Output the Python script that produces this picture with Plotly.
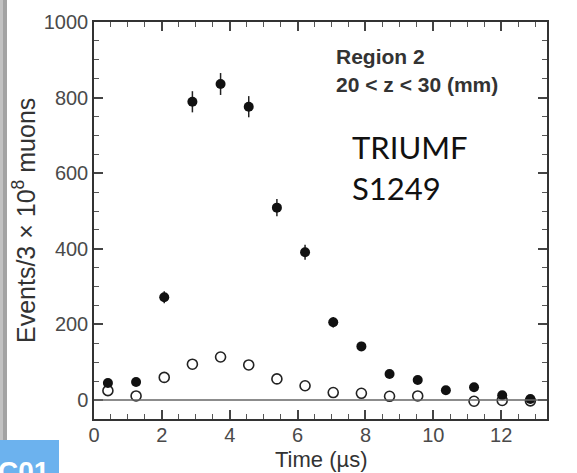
import plotly.graph_objects as go

# Time bins (µs) and event counts per 3 × 10^8 muons
time_us = [0.41, 1.24, 2.07, 2.90, 3.73, 4.56, 5.39, 6.22,
           7.05, 7.88, 8.71, 9.54, 10.37, 11.20, 12.03, 12.86]
events_filled = [45, 48, 272, 789, 836, 776, 509, 391,
                 206, 142, 69, 53, 26, 34, 13, 3]
events_filled_err = [7, 7, 16, 28, 29, 28, 23, 20,
                     14, 12, 8, 7, 5, 6, 4, 2]

time_open = [0.41, 1.24, 2.07, 2.90, 3.73, 4.56, 5.39, 6.22,
             7.05, 7.88, 8.71, 9.54, 11.20, 12.03, 12.86]
events_open = [25, 11, 60, 95, 114, 93, 56, 38,
               20, 18, 10, 11, -3, -1, -2]

x_ticks = [0, 2, 4, 6, 8, 10, 12]
y_ticks = [0, 200, 400, 600, 800, 1000]

W, H = 577, 473
L, R, T, B = 94, 30, 22, 54
PW, PH = W - L - R, H - T - B


def px(x):
    return (x - L) / PW


def py(y):
    return 1 - (y - T) / PH


fig = go.Figure()

fig.add_trace(go.Scatter(
    x=time_open, y=events_open, mode="markers",
    marker=dict(symbol="circle-open", size=10, color="#222",
                line=dict(width=1.6, color="#222")),
    showlegend=False,
))
fig.add_trace(go.Scatter(
    x=time_us, y=events_filled, mode="markers",
    error_y=dict(type="data", array=events_filled_err, visible=True,
                 thickness=1.5, width=0, color="#222"),
    marker=dict(symbol="circle", size=10, color="#111"),
    showlegend=False,
))

tick_font = dict(family="Liberation Sans, Arial, sans-serif", size=20, color="#4a4a4a")

fig.update_xaxes(
    range=[0, 13.35], tickvals=x_ticks, ticks="inside", ticklen=9,
    tickwidth=1.5, tickcolor="#444", showline=True, linecolor="#333",
    linewidth=1.5, mirror="ticks", showgrid=False, zeroline=False,
    tickfont=tick_font, ticklabelstandoff=-3,
    minor=dict(dtick=0.5, ticks="inside", ticklen=5, tickwidth=1.2,
               tickcolor="#555", showgrid=False),
)
fig.update_yaxes(
    range=[-50, 1000], tickvals=y_ticks, ticks="inside", ticklen=9,
    tickwidth=1.5, tickcolor="#444", showline=True, linecolor="#333",
    linewidth=1.5, mirror="ticks", showgrid=False, zeroline=False,
    tickfont=tick_font,
    minor=dict(dtick=50, ticks="inside", ticklen=5, tickwidth=1.2,
               tickcolor="#555", showgrid=False),
)

shapes = [
    # baseline at zero counts
    dict(type="line", xref="paper", yref="y", x0=0, x1=1, y0=0, y1=0,
         line=dict(color="#666", width=1.5)),
    # grey edge strip on the left
    dict(type="rect", xref="paper", yref="paper", x0=px(0), x1=px(3),
         y0=py(H), y1=py(0), fillcolor="#c2c2c2", line=dict(width=0), layer="above"),
    dict(type="rect", xref="paper", yref="paper", x0=px(3), x1=px(7),
         y0=py(H), y1=py(0), fillcolor="#a3a3a3", line=dict(width=0), layer="above"),
    # blue label box in the corner
    dict(type="rect", xref="paper", yref="paper", x0=px(0), x1=px(59),
         y0=py(H), y1=py(440), fillcolor="#6cb2ee", line=dict(width=0), layer="above"),
]

title_font = dict(family="Liberation Sans, Arial, sans-serif", size=22, color="#333")
annot_font = dict(family="Liberation Sans, Arial, sans-serif", size=21, color="#333")
big_font = dict(family="Lato, Open Sans, sans-serif", size=31, color="#111")

annotations = [
    dict(text="Time (µs)", xref="paper", yref="paper", x=px(321), y=py(460),
         xanchor="center", yanchor="middle", showarrow=False, font=title_font),
    dict(text="Events/3 × 10<sup>8</sup> muons", xref="paper", yref="paper",
         x=px(24), y=py(221), textangle=-90, xanchor="center", yanchor="middle",
         showarrow=False, font=dict(family="Liberation Sans, Arial, sans-serif",
                                    size=25, color="#333")),
    dict(text="<b>Region 2</b>", xref="paper", yref="paper", x=px(334), y=py(56),
         xanchor="left", yanchor="middle", showarrow=False, font=annot_font),
    dict(text="<b>20 &lt; z &lt; 30 (mm)</b>", xref="paper", yref="paper",
         x=px(334), y=py(84), xanchor="left", yanchor="middle", showarrow=False,
         font=annot_font),
    dict(text="TRIUMF", xref="paper", yref="paper", x=px(350), y=py(147),
         xanchor="left", yanchor="middle", showarrow=False, font=big_font),
    dict(text="S1249", xref="paper", yref="paper", x=px(350), y=py(188),
         xanchor="left", yanchor="middle", showarrow=False, font=big_font),
    dict(text="<b>C01</b>", xref="paper", yref="paper", x=px(-4), y=py(454),
         xanchor="left", yanchor="top", showarrow=False,
         font=dict(family="Liberation Sans, Arial, sans-serif", size=28, color="white")),
]

fig.update_layout(
    width=W, height=H,
    margin=dict(l=L, r=R, t=T, b=B),
    plot_bgcolor="white", paper_bgcolor="white",
    shapes=shapes, annotations=annotations,
)

fig.write_html("out.html")
